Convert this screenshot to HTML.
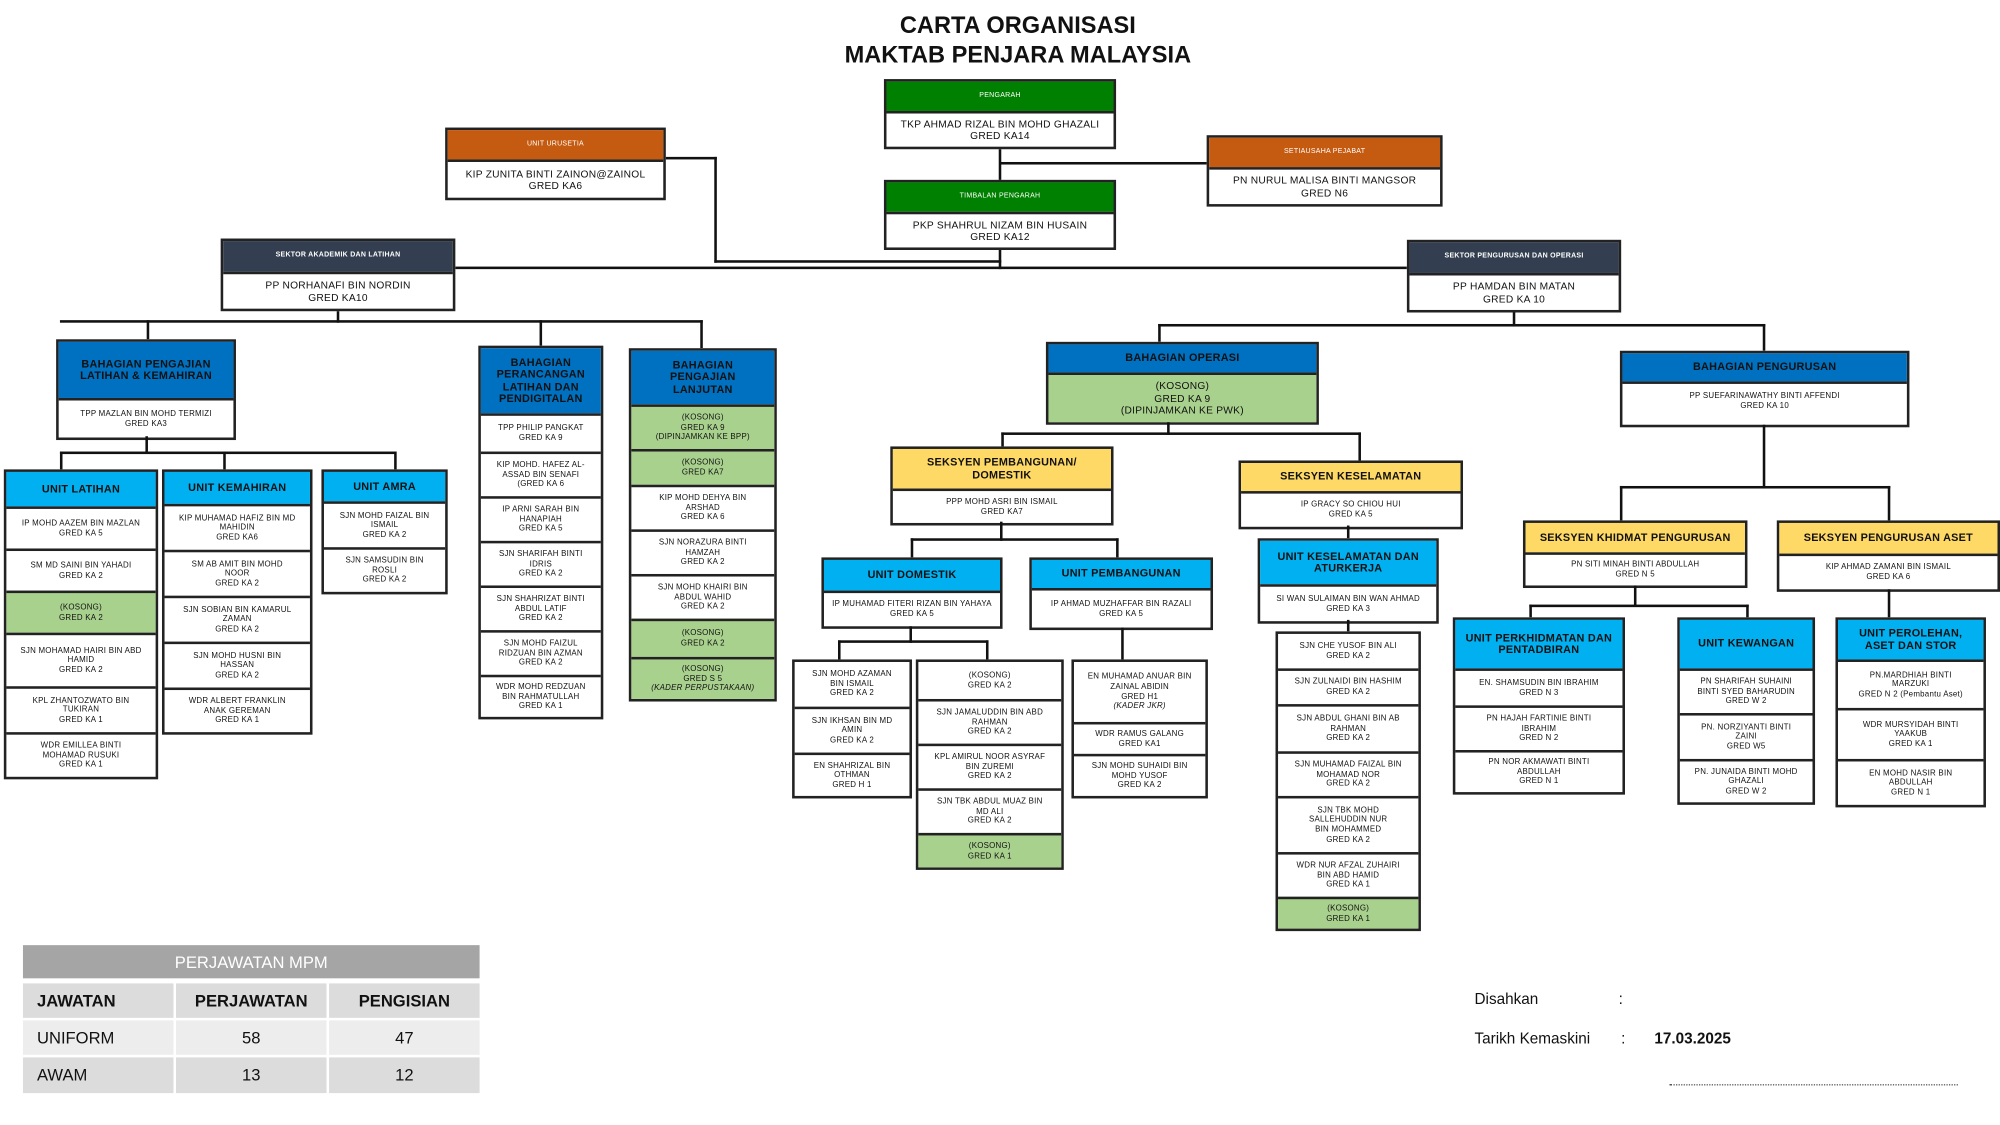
<!DOCTYPE html>
<html><head><meta charset="utf-8">
<style>
html,body{margin:0;padding:0;background:#fff;width:2000px;height:1125px;overflow:hidden}
#w{position:absolute;left:0;top:0;width:1568px;height:882px;transform:scale(1.27551);transform-origin:0 0;font-family:"Liberation Sans Narrow","Liberation Sans",sans-serif;color:#111}
.b{position:absolute;border:2px solid #222;background:#fff;box-sizing:border-box}
.b>div{display:flex;align-items:center;justify-content:center;text-align:center;box-sizing:border-box;border-top:2px solid #222;font-size:6.2px;line-height:7.6px;letter-spacing:0.2px}
.b>div:first-child{border-top:none}
.h{font-weight:bold;font-size:8.5px!important;line-height:9.5px!important}
.db{background:#0070C0}.cy{background:#00B0F0}.ye{background:#FFD966}.gr{background:#A9D18E}
.gn{background:#008000;color:#fff;font-size:5.5px!important}
.or{background:#C55A11;color:#fff;font-size:5.5px!important}
.dk{background:#333F50;color:#fff;font-size:5.5px!important;font-weight:bold}
.nm{font-size:8px!important;line-height:9.5px!important}
.l{position:absolute;background:#111}
.t{position:absolute;font-family:"Liberation Sans",sans-serif}
</style></head><body><div id="w">

<div class="t" style="left:0;width:1596px;top:8px;text-align:center;font-weight:bold;font-size:18.5px;line-height:23px">CARTA ORGANISASI<br>MAKTAB PENJARA MALAYSIA</div>

<!-- lines top -->
<div class="l" style="left:783px;top:115px;width:2px;height:27px"></div>
<div class="l" style="left:784px;top:127px;width:162px;height:2px"></div>
<div class="l" style="left:520px;top:123px;width:42px;height:2px"></div>
<div class="l" style="left:560px;top:123px;width:2px;height:83px"></div>
<div class="l" style="left:560px;top:204px;width:225px;height:2px"></div>
<div class="l" style="left:783px;top:194px;width:2px;height:17px"></div>
<div class="l" style="left:357px;top:209px;width:746px;height:2px"></div>
<div class="l" style="left:264px;top:242px;width:2px;height:11px"></div>
<div class="l" style="left:47px;top:251px;width:504px;height:2px"></div>
<div class="l" style="left:115px;top:251px;width:2px;height:15px"></div>
<div class="l" style="left:423px;top:251px;width:2px;height:20px"></div>
<div class="l" style="left:549px;top:251px;width:2px;height:22px"></div>
<div class="l" style="left:1186px;top:243px;width:2px;height:13px"></div>
<div class="l" style="left:908px;top:254px;width:476px;height:2px"></div>
<div class="l" style="left:908px;top:254px;width:2px;height:14px"></div>
<div class="l" style="left:1382px;top:254px;width:2px;height:21px"></div>

<!-- top boxes -->
<div class="b" style="left:693px;top:62px;width:182px"><div class="gn" style="height:23px">PENGARAH</div><div class="nm" style="height:28px">TKP AHMAD RIZAL BIN MOHD GHAZALI<br>GRED KA14</div></div>
<div class="b" style="left:349px;top:100px;width:173px"><div class="or" style="height:23px">UNIT URUSETIA</div><div class="nm" style="height:30px">KIP ZUNITA BINTI ZAINON@ZAINOL<br>GRED KA6</div></div>
<div class="b" style="left:946px;top:106px;width:185px"><div class="or" style="height:23px">SETIAUSAHA PEJABAT</div><div class="nm" style="height:29px">PN NURUL MALISA BINTI MANGSOR<br>GRED N6</div></div>
<div class="b" style="left:693px;top:141px;width:182px"><div class="gn" style="height:23px">TIMBALAN PENGARAH</div><div class="nm" style="height:28px">PKP SHAHRUL NIZAM BIN HUSAIN<br>GRED KA12</div></div>
<div class="b" style="left:173px;top:187px;width:184px"><div class="dk" style="height:24px">SEKTOR AKADEMIK DAN LATIHAN</div><div class="nm" style="height:29px">PP NORHANAFI BIN NORDIN<br>GRED KA10</div></div>
<div class="b" style="left:1103px;top:188px;width:168px"><div class="dk" style="height:24px">SEKTOR PENGURUSAN DAN OPERASI</div><div class="nm" style="height:29px">PP HAMDAN BIN MATAN<br>GRED KA 10</div></div>

<!-- left branch -->
<div class="b" style="left:44px;top:266px;width:141px"><div class="h db" style="height:44px">BAHAGIAN PENGAJIAN<br>LATIHAN &amp; KEMAHIRAN</div><div style="height:31px">TPP MAZLAN BIN MOHD TERMIZI<br>GRED KA3</div></div>
<div class="l" style="left:114px;top:342px;width:2px;height:13px"></div>
<div class="l" style="left:47px;top:354px;width:263px;height:2px"></div>
<div class="l" style="left:47px;top:354px;width:2px;height:14px"></div>
<div class="l" style="left:175px;top:354px;width:2px;height:14px"></div>
<div class="l" style="left:309px;top:354px;width:2px;height:14px"></div>

<div class="b" style="left:3px;top:368px;width:121px"><div class="h cy" style="height:27px">UNIT LATIHAN</div>
<div style="height:33px">IP MOHD AAZEM BIN MAZLAN<br>GRED KA 5</div>
<div style="height:33px">SM MD SAINI BIN YAHADI<br>GRED KA 2</div>
<div class="gr" style="height:33px">(KOSONG)<br>GRED KA 2</div>
<div style="height:42px">SJN MOHAMAD HAIRI BIN ABD<br>HAMID<br>GRED KA 2</div>
<div style="height:36px">KPL ZHANTOZWATO BIN<br>TUKIRAN<br>GRED KA 1</div>
<div style="height:35px">WDR EMILLEA BINTI<br>MOHAMAD RUSUKI<br>GRED KA 1</div></div>

<div class="b" style="left:127px;top:368px;width:118px"><div class="h cy" style="height:25px">UNIT KEMAHIRAN</div>
<div style="height:36px">KIP MUHAMAD HAFIZ BIN MD<br>MAHIDIN<br>GRED KA6</div>
<div style="height:36px">SM AB AMIT BIN MOHD<br>NOOR<br>GRED KA 2</div>
<div style="height:36px">SJN SOBIAN BIN KAMARUL<br>ZAMAN<br>GRED KA 2</div>
<div style="height:36px">SJN MOHD HUSNI BIN<br>HASSAN<br>GRED KA 2</div>
<div style="height:35px">WDR ALBERT FRANKLIN<br>ANAK GEREMAN<br>GRED KA 1</div></div>

<div class="b" style="left:252px;top:368px;width:99px"><div class="h cy" style="height:23px">UNIT AMRA</div>
<div style="height:36px">SJN MOHD FAIZAL BIN<br>ISMAIL<br>GRED KA 2</div>
<div style="height:35px">SJN SAMSUDIN BIN<br>ROSLI<br>GRED KA 2</div></div>

<div class="b" style="left:375px;top:271px;width:98px"><div class="h db" style="height:51px">BAHAGIAN<br>PERANCANGAN<br>LATIHAN DAN<br>PENDIGITALAN</div>
<div style="height:30px">TPP PHILIP PANGKAT<br>GRED KA 9</div>
<div style="height:35px">KIP MOHD. HAFEZ AL-<br>ASSAD BIN SENAFI<br>(GRED KA 6</div>
<div style="height:35px">IP ARNI SARAH BIN<br>HANAPIAH<br>GRED KA 5</div>
<div style="height:35px">SJN SHARIFAH BINTI<br>IDRIS<br>GRED KA 2</div>
<div style="height:35px">SJN SHAHRIZAT BINTI<br>ABDUL LATIF<br>GRED KA 2</div>
<div style="height:35px">SJN MOHD FAIZUL<br>RIDZUAN BIN AZMAN<br>GRED KA 2</div>
<div style="height:33px">WDR MOHD REDZUAN<br>BIN RAHMATULLAH<br>GRED KA 1</div></div>

<div class="b" style="left:493px;top:273px;width:116px"><div class="h db" style="height:42px">BAHAGIAN<br>PENGAJIAN<br>LANJUTAN</div>
<div class="gr" style="height:35px">(KOSONG)<br>GRED KA 9<br>(DIPINJAMKAN KE BPP)</div>
<div class="gr" style="height:28px">(KOSONG)<br>GRED KA7</div>
<div style="height:35px">KIP MOHD DEHYA BIN<br>ARSHAD<br>GRED KA 6</div>
<div style="height:35px">SJN NORAZURA BINTI<br>HAMZAH<br>GRED KA 2</div>
<div style="height:35px">SJN MOHD KHAIRI BIN<br>ABDUL WAHID<br>GRED KA 2</div>
<div class="gr" style="height:30px">(KOSONG)<br>GRED KA 2</div>
<div class="gr" style="height:33px"><span>(KOSONG)<br>GRED S 5<br><i>(KADER PERPUSTAKAAN)</i></span></div></div>

<!-- operasi -->
<div class="b" style="left:820px;top:268px;width:214px"><div class="h db" style="height:22px">BAHAGIAN OPERASI</div><div class="gr nm" style="height:39px">(KOSONG)<br>GRED KA 9<br>(DIPINJAMKAN KE PWK)</div></div>
<div class="l" style="left:915px;top:331px;width:2px;height:10px"></div>
<div class="l" style="left:785px;top:339px;width:282px;height:2px"></div>
<div class="l" style="left:785px;top:339px;width:2px;height:11px"></div>
<div class="l" style="left:1065px;top:339px;width:2px;height:22px"></div>

<div class="b" style="left:698px;top:350px;width:175px"><div class="h ye" style="height:31px">SEKSYEN PEMBANGUNAN/<br>DOMESTIK</div><div style="height:27px">PPP MOHD ASRI BIN ISMAIL<br>GRED KA7</div></div>
<div class="b" style="left:971px;top:361px;width:176px"><div class="h ye" style="height:22px">SEKSYEN KESELAMATAN</div><div style="height:28px">IP GRACY SO CHIOU HUI<br>GRED KA 5</div></div>

<div class="l" style="left:784px;top:409px;width:2px;height:15px"></div>
<div class="l" style="left:714px;top:422px;width:163px;height:2px"></div>
<div class="l" style="left:714px;top:422px;width:2px;height:15px"></div>
<div class="l" style="left:875px;top:422px;width:2px;height:15px"></div>

<div class="b" style="left:644px;top:437px;width:142px"><div class="h cy" style="height:24px">UNIT DOMESTIK</div><div style="height:28px">IP MUHAMAD FITERI RIZAN BIN YAHAYA<br>GRED KA 5</div></div>
<div class="b" style="left:807px;top:437px;width:144px"><div class="h cy" style="height:22px">UNIT PEMBANGUNAN</div><div style="height:31px">IP AHMAD MUZHAFFAR BIN RAZALI<br>GRED KA 5</div></div>

<div class="l" style="left:713px;top:491px;width:2px;height:13px"></div>
<div class="l" style="left:657px;top:502px;width:118px;height:2px"></div>
<div class="l" style="left:657px;top:502px;width:2px;height:15px"></div>
<div class="l" style="left:773px;top:502px;width:2px;height:15px"></div>
<div class="l" style="left:879px;top:492px;width:2px;height:25px"></div>

<div class="b" style="left:621px;top:517px;width:94px">
<div style="height:35px">SJN MOHD AZAMAN<br>BIN ISMAIL<br>GRED KA 2</div>
<div style="height:36px">SJN IKHSAN BIN MD<br>AMIN<br>GRED KA 2</div>
<div style="height:34px">EN SHAHRIZAL BIN<br>OTHMAN<br>GRED H 1</div></div>

<div class="b" style="left:718px;top:517px;width:116px">
<div style="height:29px">(KOSONG)<br>GRED KA 2</div>
<div style="height:35px">SJN JAMALUDDIN BIN ABD<br>RAHMAN<br>GRED KA 2</div>
<div style="height:35px">KPL AMIRUL NOOR ASYRAF<br>BIN ZUREMI<br>GRED KA 2</div>
<div style="height:35px">SJN TBK ABDUL MUAZ BIN<br>MD ALI<br>GRED KA 2</div>
<div class="gr" style="height:27px">(KOSONG)<br>GRED KA 1</div></div>

<div class="b" style="left:840px;top:517px;width:107px">
<div style="height:47px"><span>EN MUHAMAD ANUAR BIN<br>ZAINAL ABIDIN<br>GRED H1<br><i>(KADER JKR)</i></span></div>
<div style="height:25px">WDR RAMUS GALANG<br>GRED KA1</div>
<div style="height:33px">SJN MOHD SUHAIDI BIN<br>MOHD YUSOF<br>GRED KA 2</div></div>

<div class="l" style="left:1056px;top:412px;width:2px;height:10px"></div>
<div class="b" style="left:986px;top:422px;width:142px"><div class="h cy" style="height:34px">UNIT KESELAMATAN DAN<br>ATURKERJA</div><div style="height:29px">SI WAN SULAIMAN BIN WAN AHMAD<br>GRED KA 3</div></div>
<div class="l" style="left:1056px;top:486px;width:2px;height:9px"></div>
<div class="b" style="left:1000px;top:495px;width:114px">
<div style="height:27px">SJN CHE YUSOF BIN ALI<br>GRED KA 2</div>
<div style="height:28px">SJN ZULNAIDI BIN HASHIM<br>GRED KA 2</div>
<div style="height:37px">SJN ABDUL GHANI BIN AB<br>RAHMAN<br>GRED KA 2</div>
<div style="height:35px">SJN MUHAMAD FAIZAL BIN<br>MOHAMAD NOR<br>GRED KA 2</div>
<div style="height:44px">SJN TBK MOHD<br>SALLEHUDDIN NUR<br>BIN MOHAMMED<br>GRED KA 2</div>
<div style="height:35px">WDR NUR AFZAL ZUHAIRI<br>BIN ABD HAMID<br>GRED KA 1</div>
<div class="gr" style="height:25px">(KOSONG)<br>GRED KA 1</div></div>

<!-- pengurusan -->
<div class="b" style="left:1270px;top:275px;width:227px"><div class="h db" style="height:22px">BAHAGIAN PENGURUSAN</div><div style="height:34px;align-items:flex-start;padding-top:6px">PP SUEFARINAWATHY BINTI AFFENDI<br>GRED KA 10</div></div>
<div class="l" style="left:1382px;top:333px;width:2px;height:50px"></div>
<div class="l" style="left:1270px;top:381px;width:212px;height:2px"></div>
<div class="l" style="left:1270px;top:381px;width:2px;height:27px"></div>
<div class="l" style="left:1480px;top:381px;width:2px;height:27px"></div>

<div class="b" style="left:1194px;top:408px;width:176px"><div class="h ye" style="height:23px">SEKSYEN KHIDMAT PENGURUSAN</div><div style="height:26px">PN SITI MINAH BINTI ABDULLAH<br>GRED N 5</div></div>
<div class="b" style="left:1393px;top:408px;width:175px"><div class="h ye" style="height:24px">SEKSYEN PENGURUSAN ASET</div><div style="height:28px">KIP AHMAD ZAMANI BIN ISMAIL<br>GRED KA 6</div></div>

<div class="l" style="left:1281px;top:459px;width:2px;height:16px"></div>
<div class="l" style="left:1199px;top:474px;width:172px;height:2px"></div>
<div class="l" style="left:1199px;top:474px;width:2px;height:10px"></div>
<div class="l" style="left:1369px;top:474px;width:2px;height:10px"></div>
<div class="l" style="left:1480px;top:462px;width:2px;height:22px"></div>

<div class="b" style="left:1139px;top:484px;width:135px"><div class="h cy" style="height:38px">UNIT PERKHIDMATAN DAN<br>PENTADBIRAN</div>
<div style="height:29px">EN. SHAMSUDIN BIN IBRAHIM<br>GRED N 3</div>
<div style="height:35px">PN HAJAH FARTINIE BINTI<br>IBRAHIM<br>GRED N 2</div>
<div style="height:33px">PN NOR AKMAWATI BINTI<br>ABDULLAH<br>GRED N 1</div></div>

<div class="b" style="left:1315px;top:484px;width:108px"><div class="h cy" style="height:38px">UNIT KEWANGAN</div>
<div style="height:35px">PN SHARIFAH SUHAINI<br>BINTI SYED BAHARUDIN<br>GRED W 2</div>
<div style="height:36px">PN. NORZIYANTI BINTI<br>ZAINI<br>GRED W5</div>
<div style="height:34px">PN. JUNAIDA BINTI MOHD<br>GHAZALI<br>GRED W 2</div></div>

<div class="b" style="left:1439px;top:484px;width:118px"><div class="h cy" style="height:31px">UNIT PEROLEHAN,<br>ASET DAN STOR</div>
<div style="height:38px">PN.MARDHIAH BINTI<br>MARZUKI<br>GRED N 2 (Pembantu Aset)</div>
<div style="height:40px">WDR MURSYIDAH BINTI<br>YAAKUB<br>GRED KA 1</div>
<div style="height:36px">EN MOHD NASIR BIN<br>ABDULLAH<br>GRED N 1</div></div>

<!-- table -->
<div style="position:absolute;left:18px;top:741px;width:358px;height:26px;background:#A5A5A5;color:#fff;font-size:13px;display:flex;align-items:center;justify-content:center;font-family:'Liberation Sans Narrow','Liberation Sans',sans-serif">PERJAWATAN MPM</div>
<div style="position:absolute;left:18px;top:771px;width:118px;height:27px;background:#DCDCDC;font-weight:bold;font-size:13px;line-height:27px;padding-left:11px;box-sizing:border-box;font-family:'Liberation Sans Narrow','Liberation Sans',sans-serif">JAWATAN</div>
<div style="position:absolute;left:138px;top:771px;width:118px;height:27px;background:#DCDCDC;font-weight:bold;font-size:13px;line-height:27px;text-align:center;font-family:'Liberation Sans Narrow','Liberation Sans',sans-serif">PERJAWATAN</div>
<div style="position:absolute;left:258px;top:771px;width:118px;height:27px;background:#DCDCDC;font-weight:bold;font-size:13px;line-height:27px;text-align:center;font-family:'Liberation Sans Narrow','Liberation Sans',sans-serif">PENGISIAN</div>
<div style="position:absolute;left:18px;top:800px;width:118px;height:27px;background:#EDEDED;font-size:13px;line-height:27px;padding-left:11px;box-sizing:border-box;font-family:'Liberation Sans Narrow','Liberation Sans',sans-serif">UNIFORM</div>
<div style="position:absolute;left:138px;top:800px;width:118px;height:27px;background:#EDEDED;font-size:13px;line-height:27px;text-align:center;font-family:'Liberation Sans Narrow','Liberation Sans',sans-serif">58</div>
<div style="position:absolute;left:258px;top:800px;width:118px;height:27px;background:#EDEDED;font-size:13px;line-height:27px;text-align:center;font-family:'Liberation Sans Narrow','Liberation Sans',sans-serif">47</div>
<div style="position:absolute;left:18px;top:829px;width:118px;height:28px;background:#DCDCDC;font-size:13px;line-height:28px;padding-left:11px;box-sizing:border-box;font-family:'Liberation Sans Narrow','Liberation Sans',sans-serif">AWAM</div>
<div style="position:absolute;left:138px;top:829px;width:118px;height:28px;background:#DCDCDC;font-size:13px;line-height:28px;text-align:center;font-family:'Liberation Sans Narrow','Liberation Sans',sans-serif">13</div>
<div style="position:absolute;left:258px;top:829px;width:118px;height:28px;background:#DCDCDC;font-size:13px;line-height:28px;text-align:center;font-family:'Liberation Sans Narrow','Liberation Sans',sans-serif">12</div>

<!-- footer -->
<div class="t" style="left:1156px;top:776px;font-size:12px">Disahkan</div>
<div class="t" style="left:1269px;top:776px;font-size:12px">:</div>
<div class="t" style="left:1156px;top:807px;font-size:12px">Tarikh Kemaskini</div>
<div class="t" style="left:1271px;top:807px;font-size:12px">:</div>
<div class="t" style="left:1297px;top:807px;font-size:12px;font-weight:bold">17.03.2025</div>
<div style="position:absolute;left:1309px;top:850px;width:226px;border-top:1px dotted #555"></div>

</div></body></html>
